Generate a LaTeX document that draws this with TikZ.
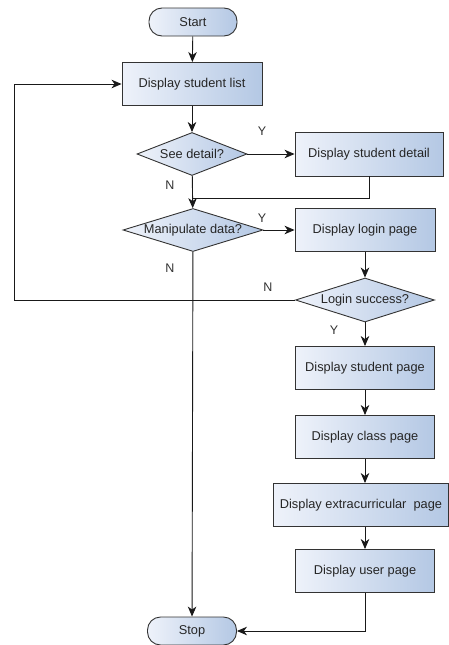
\documentclass[tikz,border=0pt]{standalone}
\usepackage{fontspec}
\setmainfont{Liberation Sans}
\usetikzlibrary{shapes.geometric,arrows.meta}
\definecolor{lightb}{HTML}{EEF2FA}
\definecolor{darkb}{HTML}{B4C8E4}
\definecolor{edge}{HTML}{333333}
\tikzset{
  base/.style={draw=edge, line width=0.9pt, left color=lightb, right color=darkb, font=\fontsize{12.8}{14}\selectfont, inner sep=0pt, text=black!85},
  procbox/.style={base, rectangle, minimum width=#1, minimum height=43pt},
  procbox/.default=140pt,
  term/.style={base, rectangle, rounded corners=13pt, minimum width=88pt, minimum height=28pt},
  conn/.style={draw=black!90, line width=0.9pt},
  arr/.style={conn, -{Stealth[length=10pt,width=8.5pt,inset=3pt]}},
  lbl/.style={font=\fontsize{12.5}{14}\selectfont, text=black!80}
}
\begin{document}
\begin{tikzpicture}[x=1pt,y=-1pt]
\useasboundingbox (0,0) rectangle (449,645);
\node[term] (start) at (193,22) {Start};
\node[procbox] (list) at (192,84) {Display student list};
\node[base, diamond, minimum width=110pt, minimum height=43pt, aspect=2.5] (see) at (192,154) {See detail?};
\node[procbox=148pt, minimum height=44pt] (detail) at (369,154) {Display student detail};
\node[base, diamond, minimum width=140pt, minimum height=43pt, aspect=3.2] (manip) at (193,230) {Manipulate data?};
\node[procbox] (login) at (365,230) {Display login page};
\node[base, diamond, minimum width=139pt, minimum height=44pt, aspect=3.2] (succ) at (365,300) {Login success?};
\node[procbox=139pt] (spage) at (365,368) {Display student page};
\node[procbox=139pt] (cpage) at (365,437) {Display class page};
\node[procbox=175pt] (epage) at (361,505) {Display extracurricular\ \ page};
\node[procbox=139pt] (upage) at (365,571) {Display user page};
\node[term, minimum width=89pt] (stop) at (192,631) {Stop};
\coordinate (merge) at (192,198);
\coordinate (loopL) at (14,300);
\coordinate (loopT) at (14,84);

\draw[arr] (start) -- (list);
\draw[arr] (list) -- (see);
\draw[arr] (see) -- (detail);
\draw[conn] (detail.south) |- (merge);
\draw[arr] (see) -- (manip);
\draw[arr] (manip) -- (login);
\draw[arr] (login) -- (succ);
\draw[conn] (succ.west) -- (loopL) -- (loopT);
\draw[arr] (loopT) -- (list.west);
\draw[arr] (succ) -- (spage);
\draw[arr] (spage) -- (cpage);
\draw[arr] (cpage) -- (cpage|-epage.north);
\draw[arr] (epage.south-|upage) -- (upage);
\draw[arr] (manip) -- (stop);
\draw[arr] (upage.south) |- (stop.east);

\node[lbl] (y1) at (262,131) {Y};
\node[lbl] (n1) at (170,185) {N};
\node[lbl] (y2) at (262,218) {Y};
\node[lbl] (n2) at (170,268) {N};
\node[lbl] (n3) at (268,287) {N};
\node[lbl] (y3) at (334,330) {Y};
\end{tikzpicture}
\end{document}
